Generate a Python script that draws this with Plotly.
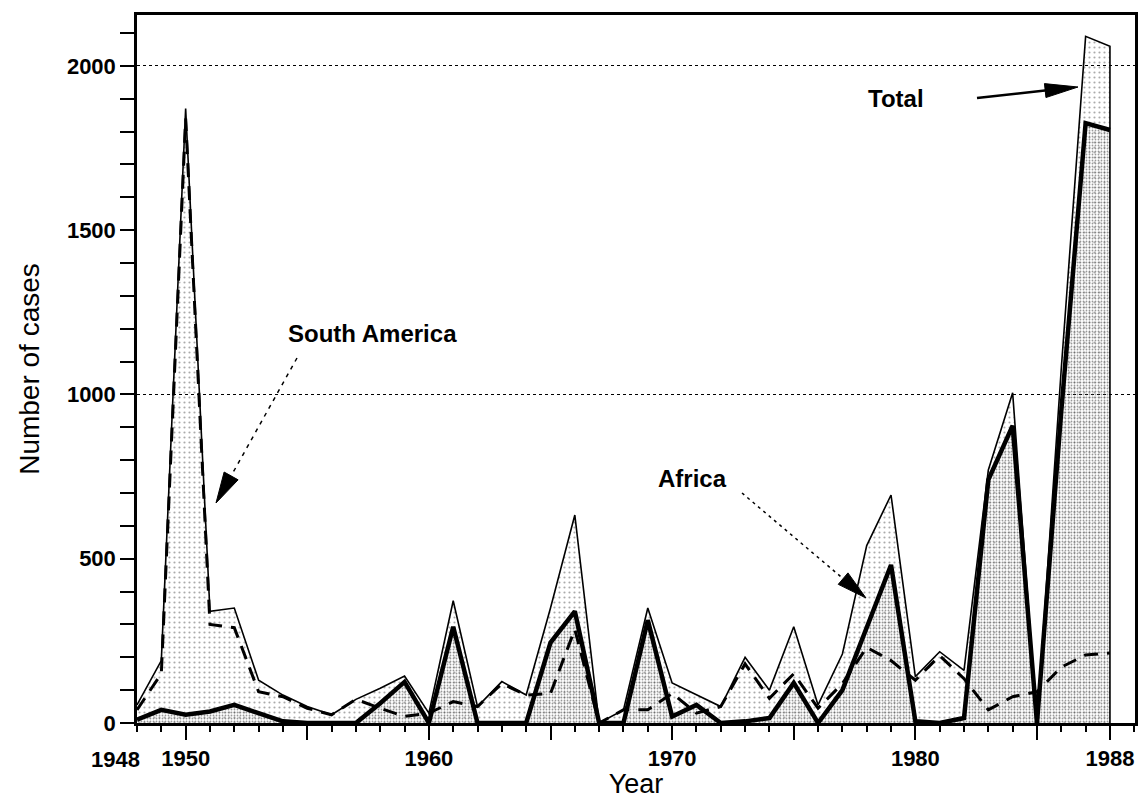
import math
import plotly.graph_objects as go

# ---------------- data ----------------
years = list(range(1948, 1989))
total = [55, 190, 1870, 340, 350, 130, 85, 50, 25, 72,
         106, 143, 30, 372, 50, 126, 85, 350, 633, 0,
         40, 350, 122, 85, 50, 200, 100, 293, 55, 210,
         540, 694, 141, 217, 160, 770, 1005, 0, 1080, 2090,
         2060]
africa = [10, 40, 25, 35, 55, 30, 5, 0, 0, 0,
          60, 125, 0, 293, 0, 0, 0, 245, 340, 0,
          0, 313, 20, 55, 0, 5, 15, 122, 0, 100,
          290, 481, 5, 0, 15, 740, 905, 0, 950, 1826,
          1805]
south_america = [40, 150, 1840, 300, 290, 95, 80, 45, 25, 72,
                 45, 20, 30, 65, 50, 120, 85, 90, 285, 0,
                 40, 40, 90, 30, 50, 180, 75, 150, 45, 120,
                 230, 190, 130, 205, 135, 40, 80, 95, 170, 207,
                 213]

y_tick_vals = [0, 500, 1000, 1500, 2000]
x_tick_vals = [1950, 1955, 1960, 1965, 1970, 1975, 1980, 1985, 1988]
x_tick_text = ["1950", "", "1960", "", "1970", "", "1980", "", "1988"]
grid_vals = [1000, 2000]

# ---------------- layout geometry ----------------
W, H = 1139, 799
ML, MR, MT, MB = 137, 4, 15, 76
PW, PH = W - ML - MR, H - MT - MB
X_RANGE = [1948, 1989.03]
Y_RANGE = [0, 2155]
FONT = "Liberation Sans, Arial, sans-serif"


def px2data(px, py):
    x = X_RANGE[0] + (px - ML) / PW * (X_RANGE[1] - X_RANGE[0])
    y = Y_RANGE[0] + (MT + PH - py) / PH * (Y_RANGE[1] - Y_RANGE[0])
    return x, y


def arrow(tail, tip, head_len, head_w, dash, width):
    ux, uy = tip[0] - tail[0], tip[1] - tail[1]
    n = math.hypot(ux, uy)
    ux, uy = ux / n, uy / n
    bx, by = tip[0] - ux * head_len, tip[1] - uy * head_len
    pxv, pyv = -uy, ux
    c1 = (bx + pxv * head_w / 2, by + pyv * head_w / 2)
    c2 = (bx - pxv * head_w / 2, by - pyv * head_w / 2)
    t0 = px2data(*tail)
    b0 = px2data(bx + ux * 2, by + uy * 2)
    shapes = [dict(type="line", xref="x", yref="y", x0=t0[0], y0=t0[1],
                   x1=b0[0], y1=b0[1],
                   line=dict(color="black", width=width, dash=dash))]
    pts = [px2data(*tip), px2data(*c1), px2data(*c2)]
    path = "M {:.4f},{:.4f} L {:.4f},{:.4f} L {:.4f},{:.4f} Z".format(
        pts[0][0], pts[0][1], pts[1][0], pts[1][1], pts[2][0], pts[2][1])
    shapes.append(dict(type="path", xref="x", yref="y", path=path,
                       fillcolor="black", line=dict(color="black", width=1)))
    return shapes


fig = go.Figure()

# shaded areas
fig.add_trace(go.Scatter(
    x=years, y=total, mode="lines", fill="tozeroy",
    line=dict(width=0, color="rgba(0,0,0,0)"),
    fillcolor="rgba(0,0,0,0)",
    fillpattern=dict(shape=".", fgcolor="#555555", bgcolor="rgba(0,0,0,0)",
                     size=5, solidity=0.15),
    hoverinfo="skip", showlegend=False))
fig.add_trace(go.Scatter(
    x=years, y=africa, mode="lines", fill="tozeroy",
    line=dict(width=0, color="rgba(0,0,0,0)"),
    fillcolor="rgba(0,0,0,0)",
    fillpattern=dict(shape=".", fgcolor="#333333", bgcolor="rgba(0,0,0,0)",
                     size=3, solidity=0.28),
    hoverinfo="skip", showlegend=False))

# lines
fig.add_trace(go.Scatter(
    x=years + [years[-1]], y=total + [0], mode="lines", name="Total",
    line=dict(color="black", width=1.6), showlegend=False))
fig.add_trace(go.Scatter(
    x=years, y=south_america, mode="lines", name="South America",
    line=dict(color="black", width=3, dash="14px,9px"), showlegend=False))
fig.add_trace(go.Scatter(
    x=years, y=africa, mode="lines", name="Africa",
    line=dict(color="black", width=4.5), showlegend=False))

# trace carrying the dotted grid axis
fig.add_trace(go.Scatter(
    x=years, y=total, yaxis="y2", mode="lines", opacity=0,
    line=dict(width=0), hoverinfo="skip", showlegend=False))

shapes = []
shapes += arrow((977, 98), (1078, 87), 33, 14, "solid", 2.5)
shapes += arrow((297, 358), (216, 503), 31, 16, "4px,5px", 1.5)
shapes += arrow((742, 493), (866, 598), 30, 15, "3px,4px", 1.5)

annotations = []
for txt, (px, py) in [("Total", (896, 98)), ("South America", (372, 333)),
                      ("Africa", (692, 478))]:
    x, y = px2data(px, py)
    annotations.append(dict(x=x, y=y, xref="x", yref="y", text=txt,
                            showarrow=False,
                            font=dict(family=FONT, size=24, color="black",
                                      weight="bold")))
annotations.append(dict(x=years[0], y=0, xref="x", yref="paper", text="1948",
                        showarrow=False, xshift=-22, yshift=-36,
                        xanchor="center", yanchor="middle",
                        font=dict(family=FONT, size=22, color="black",
                                  weight="bold")))

fig.update_layout(
    width=W, height=H,
    margin=dict(l=ML, r=MR, t=MT, b=MB),
    paper_bgcolor="white", plot_bgcolor="white",
    font=dict(family=FONT, color="black"),
    shapes=shapes, annotations=annotations,
    xaxis=dict(range=X_RANGE, showline=True, linecolor="black", linewidth=2.5,
               mirror=True, ticks="outside", tickvals=x_tick_vals,
               ticktext=x_tick_text, ticklen=14, tickwidth=2,
               tickcolor="black",
               minor=dict(dtick=1, tick0=1948, ticks="outside", ticklen=6,
                          tickwidth=1.5, tickcolor="black", showgrid=False),
               showgrid=False, zeroline=False, automargin=False,
               tickfont=dict(family=FONT, size=22, weight="bold"),
               title=dict(text="Year", standoff=8,
                          font=dict(family=FONT, size=27))),
    yaxis=dict(range=Y_RANGE, showline=True, linecolor="black", linewidth=2.5,
               mirror=True, ticks="outside", tickvals=y_tick_vals,
               ticklen=14, tickwidth=2, tickcolor="black",
               minor=dict(dtick=100, tick0=0, ticks="outside", ticklen=14,
                          tickwidth=1.5, tickcolor="black", showgrid=False),
               showgrid=False, zeroline=False, automargin=False,
               tickfont=dict(family=FONT, size=22, weight="bold"),
               title=dict(text="Number of cases", standoff=20,
                          font=dict(family=FONT, size=28))),
    yaxis2=dict(range=Y_RANGE, overlaying="y", side="left",
                tickvals=grid_vals, showgrid=True, griddash="dot",
                gridcolor="black", gridwidth=1.3, showticklabels=False,
                ticks="", showline=False, zeroline=False),
)

fig.write_html(
    "out.html",
    config={"displayModeBar": False},
    post_script="document.body.style.margin='0';"
                "document.body.style.overflow='hidden';",
)
